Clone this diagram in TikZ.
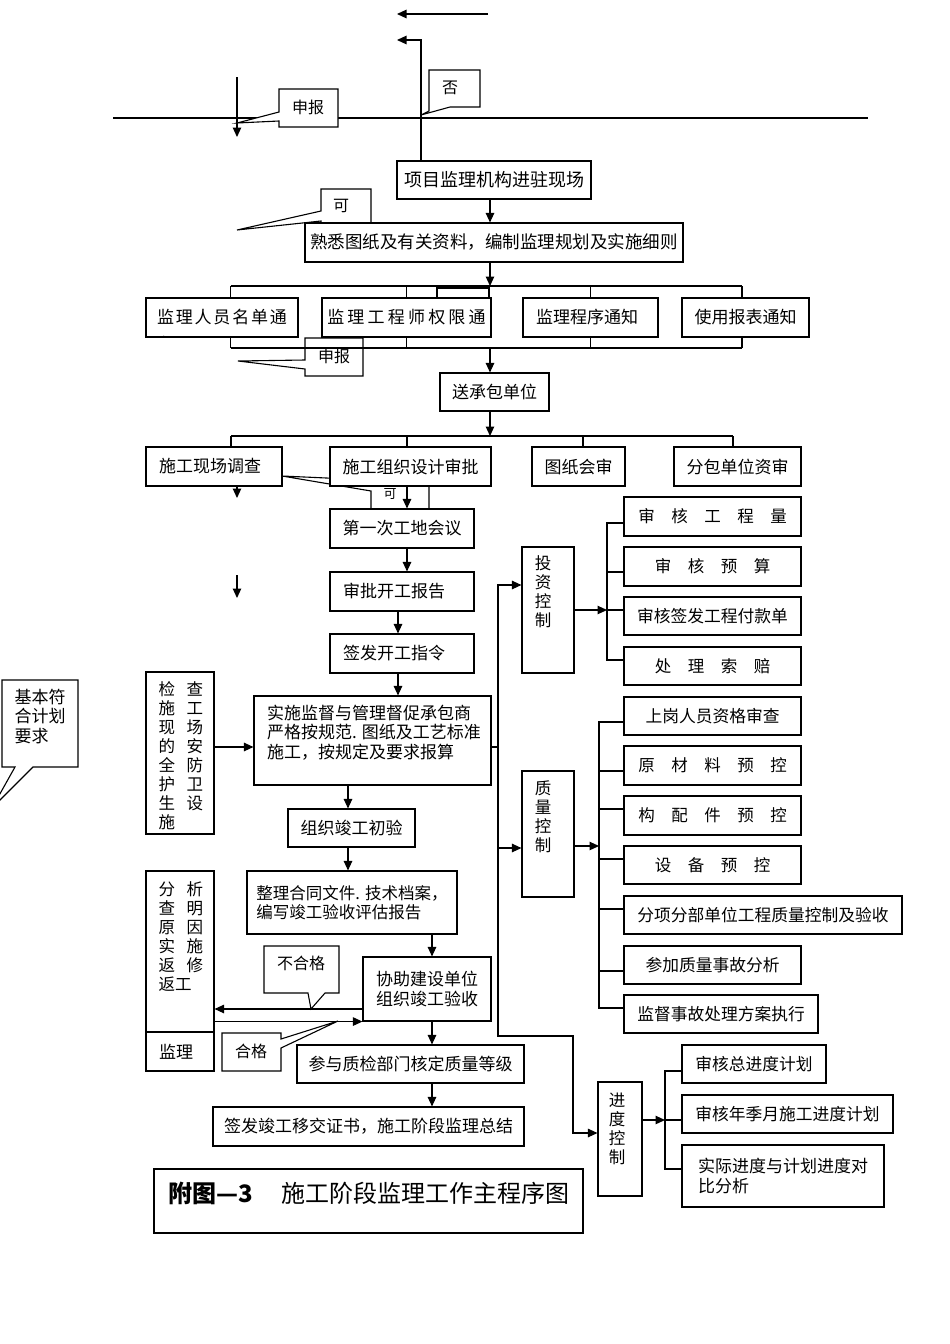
\documentclass[tikz,border=0pt]{standalone}
\usepackage{fontspec}
\setmainfont{Noto Sans CJK SC}
\usetikzlibrary{arrows.meta}
\newcommand{\colgap}{\hspace{11.5pt}}
\newcommand{\ks}{\hspace{1.8pt}}
\newcommand{\kw}{\hspace{3.2pt}}

\tikzset{
  bx/.style={draw, fill=white, inner sep=0pt, minimum height=39, align=center},
  lf/.style={align=left, text width=#1pt, inner xsep=13pt},
  tx/.style={inner sep=0pt, align=left},
  vt/.style={inner sep=0pt, align=center, font=\fontsize{16.5}{19}\selectfont},
  co/.style={draw, fill=white},
  lb/.style={inner sep=0pt, font=\fontsize{16}{18}\selectfont},
  sm/.style={font=\fontsize{16.75}{19}\selectfont}
}

\begin{document}
\begin{tikzpicture}[x=1pt, y=-1pt, line width=1.1pt,
  font=\fontsize{17}{19.5}\selectfont,
  >={Triangle[length=9.5pt,width=8.5pt]}]
\fill[white] (0,0) rectangle (950,1344);
\useasboundingbox (0,0) rectangle (950,1344);

% top
\coordinate (a1) at (488,14);
\coordinate (a2) at (397,14);
\coordinate (f1) at (397,40);
\coordinate (h1) at (113,118);
\coordinate (h2) at (868,118);
\coordinate (d1) at (237,77);
\coordinate (d2) at (237,137);
\draw[->] (a1) -- (a2);
\draw (h1) -- (h2);
\draw[->] (d1) -- (d2);

\draw[co] (279,89) -- (338,89) -- (338,127) -- (279,127) -- (279,121) -- (237,123) -- (279,112) -- cycle;
\node[lb] (sb1) at (308,107) {申报};
\draw[co] (429,70) -- (480,70) -- (480,107) -- (450,107) -- (421,115) -- (429,111) -- cycle;
\node[lb] (no) at (450,88) {否};

\node[bx, minimum width=194, minimum height=38, font=\fontsize{18}{20}\selectfont] (xm) at (494,180) {项目监理机构进驻现场};
\draw[->] ([xshift=-73]xm.north) |- (f1);

\draw[co] (321,189) -- (371,189) -- (371,230) -- (321,230) -- (321,221) -- (237,230) -- (321,211) -- cycle;
\node[lb] (k1) at (341,206) {可};
\node[bx, minimum width=378, font=\fontsize{17.5}{20}\selectfont] (sx) at (494,242.5) {熟悉图纸及有关资料，编制监理规划及实施细则};
\coordinate (b1) at (490,286);
\coordinate (b2) at (490,348);
\coordinate (b3) at (490,436);
\draw[->] (xm.south -| b1) -- (b1 |- sx.north);

% notices
\draw (437,288) rectangle (489,298);
\node[bx, minimum width=152] (ry) at (222,317.5) {监\ks 理\ks 人\ks 员\ks 名\ks 单\ks 通};
\node[bx, minimum width=169] (qx) at (406.5,317.5) {监\kw 理\kw 工\kw 程\kw 师\kw 权\kw 限\kw 通};
\node[bx, lf=109] (cx) at (590.5,317.5) {监理程序通知};
\node[bx, minimum width=127] (bb) at (745.5,317.5) {使用报表通知};
\begin{scope}
  \clip (ry.south west) rectangle (ry.north east);
  \node (ryz) at (169,344) {知};
\end{scope}

\draw[co] (305,338) -- (363,338) -- (363,376) -- (305,376) -- (305,369) -- (238,361) -- (305,360) -- cycle;
\node[lb] (sb2) at (334,356) {申报};

\draw[->] (sx.south -| b1) -- (b1);
\draw ([xshift=8.5]ry.north |- b1) -- ([xshift=-3.5]bb.north |- b1);
\draw ([xshift=8.5]ry.south |- b2) -- ([xshift=-3.5]bb.south |- b2);
\foreach \n/\d in {ry/8.5, qx/0, cx/0, bb/-3.5} {
  \draw ([xshift=\d]\n.north) -- ([xshift=\d]\n.north |- b1);
  \draw ([xshift=\d]\n.south) -- ([xshift=\d]\n.south |- b2);
}

\node[bx, minimum width=109, minimum height=38] (scb) at (494.5,392) {送承包单位};
\draw[->] (b2) -- (b2 |- scb.north);
\draw[->] (scb.south -| b3) -- (b3);

% second row
\draw[co] (371,460) -- (429,460) -- (429,509) -- (371,509) -- (371,491) -- (282,476) -- (371,480) -- cycle;
\node[bx, lf=110] (dc) at (214,466.5) {施工现场调查};
\node[bx, minimum width=161] (sp) at (410.5,466.5) {施工组织设计审批};
\node[bx, minimum width=93] (hs) at (578.5,466.5) {图纸会审};
\node[bx, minimum width=127] (fb) at (737.5,466.5) {分包单位资审};
\node[inner sep=0pt, font=\fontsize{13}{14}\selectfont] (k2) at (390,494) {可};
\draw ([xshift=17]dc.north |- b3) -- ([xshift=-4.5]fb.north |- b3);
\foreach \n/\d in {dc/17, sp/-3.5, hs/4.5, fb/-4.5}
  \draw ([xshift=\d]\n.north) -- ([xshift=\d]\n.north |- b3);

\coordinate (e2) at (237,498);
\coordinate (e3) at (237,575);
\coordinate (e4) at (237,598);
\draw[->] (dc.south -| e2) -- (e2);
\draw[->] (e3) -- (e4);

\node[bx, minimum width=144] (hy) at (402,528.5) {第一次工地会议};
\node[bx, lf=118] (kg) at (402,591.5) {审批开工报告};
\node[bx, lf=118] (zl) at (402,653.5) {签发开工指令};
\draw[->] ([xshift=-3.5]sp.south) -- ([xshift=-3.5]sp.south |- hy.north);
\draw[->] ([xshift=5]hy.south) -- ([xshift=5]hy.south |- kg.north);
\draw[->] ([xshift=-4]kg.south) -- ([xshift=-4]kg.south |- zl.north);

% construction
\node[bx, minimum width=237, minimum height=89] (ss) at (372.5,740.5) {};
\node[tx, anchor=west, font=\fontsize{17}{19.5}\selectfont] (sst) at ([xshift=13,yshift=8]ss.west)
  {实施监督与管理督促承包商\\严格按规范. 图纸及工艺标准\\施工，按规定及要求报算};
\draw[->] ([xshift=-4]zl.south) -- ([xshift=-4]zl.south |- ss.north);

\node[bx, minimum width=68, minimum height=162] (jc) at (180,753) {};
\node[tx, anchor=west, font=\fontsize{16.5}{19}\selectfont] (jct) at (158,755.5)
  {检\colgap 查\\施\colgap 工\\现\colgap 场\\的\colgap 安\\全\colgap 防\\护\colgap 卫\\生\colgap 设\\施};
\draw[->] ([yshift=6]jc.east) -- ([yshift=6]jc.east -| ss.west);

\draw[co] (2,680) -- (78,680) -- (78,767) -- (33,767) -- (-8,808) -- (15,767) -- (2,767) -- cycle;
\node[tx, anchor=west] (jb) at (14,716.5) {基本符\\合计划\\要求};

\node[bx, minimum width=127, minimum height=38] (cy) at (351.5,828) {组织竣工初验};
\node[bx, align=left, minimum width=210, minimum height=63, font=\fontsize{16.5}{19}\selectfont] (zh) at (352,902.5)
  {整理合同文件. 技术档案，\\编写竣工验收评估报告};
\node[bx, align=left, minimum width=128, minimum height=64] (ys) at (427,989) {协助建设单位\\组织竣工验收};
\draw[->] ([xshift=-24.5]ss.south) -- ([xshift=-24.5]ss.south |- cy.north);
\draw[->] ([xshift=-3.5]cy.south) -- ([xshift=-3.5]cy.south |- zh.north);
\draw[->] ([xshift=80]zh.south) -- ([xshift=80]zh.south |- ys.north);

\node[bx, minimum width=68, minimum height=161] (fx) at (180,951.5) {};
\node[tx, anchor=west, font=\fontsize{16.5}{19}\selectfont] (fxt) at (158,936.5)
  {分\colgap 析\\查\colgap 明\\原\colgap 因\\实\colgap 施\\返\colgap 修\\返工};
\node[bx, lf=42] (jl) at (180,1051.5) {监理};

\draw[co] (264,946) -- (339,946) -- (339,993) -- (325,993) -- (311,1009) -- (308,993) -- (264,993) -- cycle;
\node[lb] (bhg) at (301,963) {不合格};
\draw[co] (222,1033) -- (281,1033) -- (281,1039) -- (338,1021) -- (281,1048) -- (281,1071) -- (222,1071) -- cycle;
\node[lb] (hg) at (251,1051) {合格};
\draw[->] ([yshift=-20]ys.west) -- ([yshift=-20]ys.west -| fx.east);
\draw[->] (ys.south west -| fx.east) -- (ys.south west);

\node[bx, minimum width=227, minimum height=38] (dj) at (410.5,1064) {参与质检部门核定质量等级};
\node[bx, minimum width=311] (yj) at (368.5,1126.5) {签发竣工移交证书，施工阶段监理总结};
\draw[->] ([xshift=5]ys.south) -- ([xshift=5]ys.south |- dj.north);
\draw[->] ([xshift=21.5]dj.south) -- ([xshift=21.5]dj.south |- yj.north);

\node[bx, minimum width=429, minimum height=64] (tt) at (368.5,1201) {};
\node[tx, anchor=west, font=\fontsize{24}{26}\selectfont] (ttt) at (168,1193)
  {{\bfseries 附图—3}\hspace{28pt}施工阶段监理工作主程序图};

% control branches
\node[bx, minimum width=52, minimum height=126] (tz) at (548,610) {};
\node[vt] (tzt) at (543,591.5) {投\\资\\控\\制};
\node[bx, minimum width=52, minimum height=126] (zk) at (548,834) {};
\node[vt] (zkt) at (543,816.5) {质\\量\\控\\制};
\node[bx, minimum width=44, minimum height=114] (jd) at (620,1139) {};
\node[vt] (jdt) at (617,1128.5) {进\\度\\控\\制};

\coordinate (v1) at (498,1036);
\coordinate (v2) at (573,1133);
\draw[<->] ([yshift=25]tz.west) -| (v1) -| (v2) -- (v2 -| jd.west);
\draw[->] ([yshift=-14]zk.west -| v1) -- ([yshift=-14]zk.west);
\draw ([yshift=-6.5]ss.east) -- ([yshift=-6.5]ss.east -| v1);

\node[bx, minimum width=177, font=\fontsize{16.5}{19}\selectfont] (t1) at (712.5,516.5) {审　核　工　程　量};
\node[bx, minimum width=177, font=\fontsize{16.5}{19}\selectfont] (t2) at (712.5,566.5) {审　核　预　算};
\node[bx, sm, minimum width=177, minimum height=38] (t3) at (712.5,616) {审核签发工程付款单};
\node[bx, minimum width=177, minimum height=38, font=\fontsize{16.5}{19}\selectfont] (t4) at (712.5,666) {处　理　索　赔};
\coordinate (c1) at (607,610);
\draw[->] (tz.east) -- (c1);
\draw ([yshift=-6.5]t1.west) -| ([yshift=6]t4.west -| c1) -- ([yshift=6]t4.west);
\draw ([yshift=-5.5]t2.west) -- ([yshift=-5.5]t2.west -| c1);
\draw (c1) -- ([yshift=6]t3.west);

\node[bx, sm, minimum width=177, minimum height=38] (q1) at (712.5,716) {上岗人员资格审查};
\node[bx, minimum width=177, font=\fontsize{16.5}{19}\selectfont] (q2) at (712.5,765.5) {原　材　料　预　控};
\node[bx, minimum width=177, font=\fontsize{16.5}{19}\selectfont] (q3) at (712.5,815.5) {构　配　件　预　控};
\node[bx, minimum width=177, minimum height=38, font=\fontsize{16.5}{19}\selectfont] (q4) at (712.5,865) {设　备　预　控};
\node[bx, sm, minimum width=278, minimum height=38] (q5) at (763,915) {分项分部单位工程质量控制及验收};
\node[bx, sm, minimum width=177, minimum height=38] (q6) at (712.5,965) {参加质量事故分析};
\node[bx, sm, minimum width=194, minimum height=38] (q7) at (721,1014) {监督事故处理方案执行};
\coordinate (c2) at (599,846);
\draw[->] ([yshift=-12]zk.east) -- (c2);
\draw ([yshift=-6]q1.west) -| ([yshift=6]q7.west -| c2) -- ([yshift=6]q7.west);
\foreach \n/\d in {q2/-5.5, q3/6.5, q4/6, q5/6, q6/-6}
  \draw ([yshift=\d]\n.west) -- ([yshift=\d]\n.west -| c2);

\node[bx, sm, minimum width=144, minimum height=38] (j1) at (754,1064) {审核总进度计划};
\node[bx, sm, minimum width=211, minimum height=38] (j2) at (787.5,1114) {审核年季月施工进度计划};
\node[bx, align=left, minimum width=202, minimum height=62] (j3) at (783,1176) {实际进度与计划进度对\\比分析};
\coordinate (c3) at (665,1120);
\draw[->] ([yshift=19]jd.east) -- (c3);
\draw ([yshift=-7]j1.west) -| ([yshift=7]j3.west -| c3) -- ([yshift=7]j3.west);
\draw (c3) -- (c3 -| j2.west);
\end{tikzpicture}
\end{document}
